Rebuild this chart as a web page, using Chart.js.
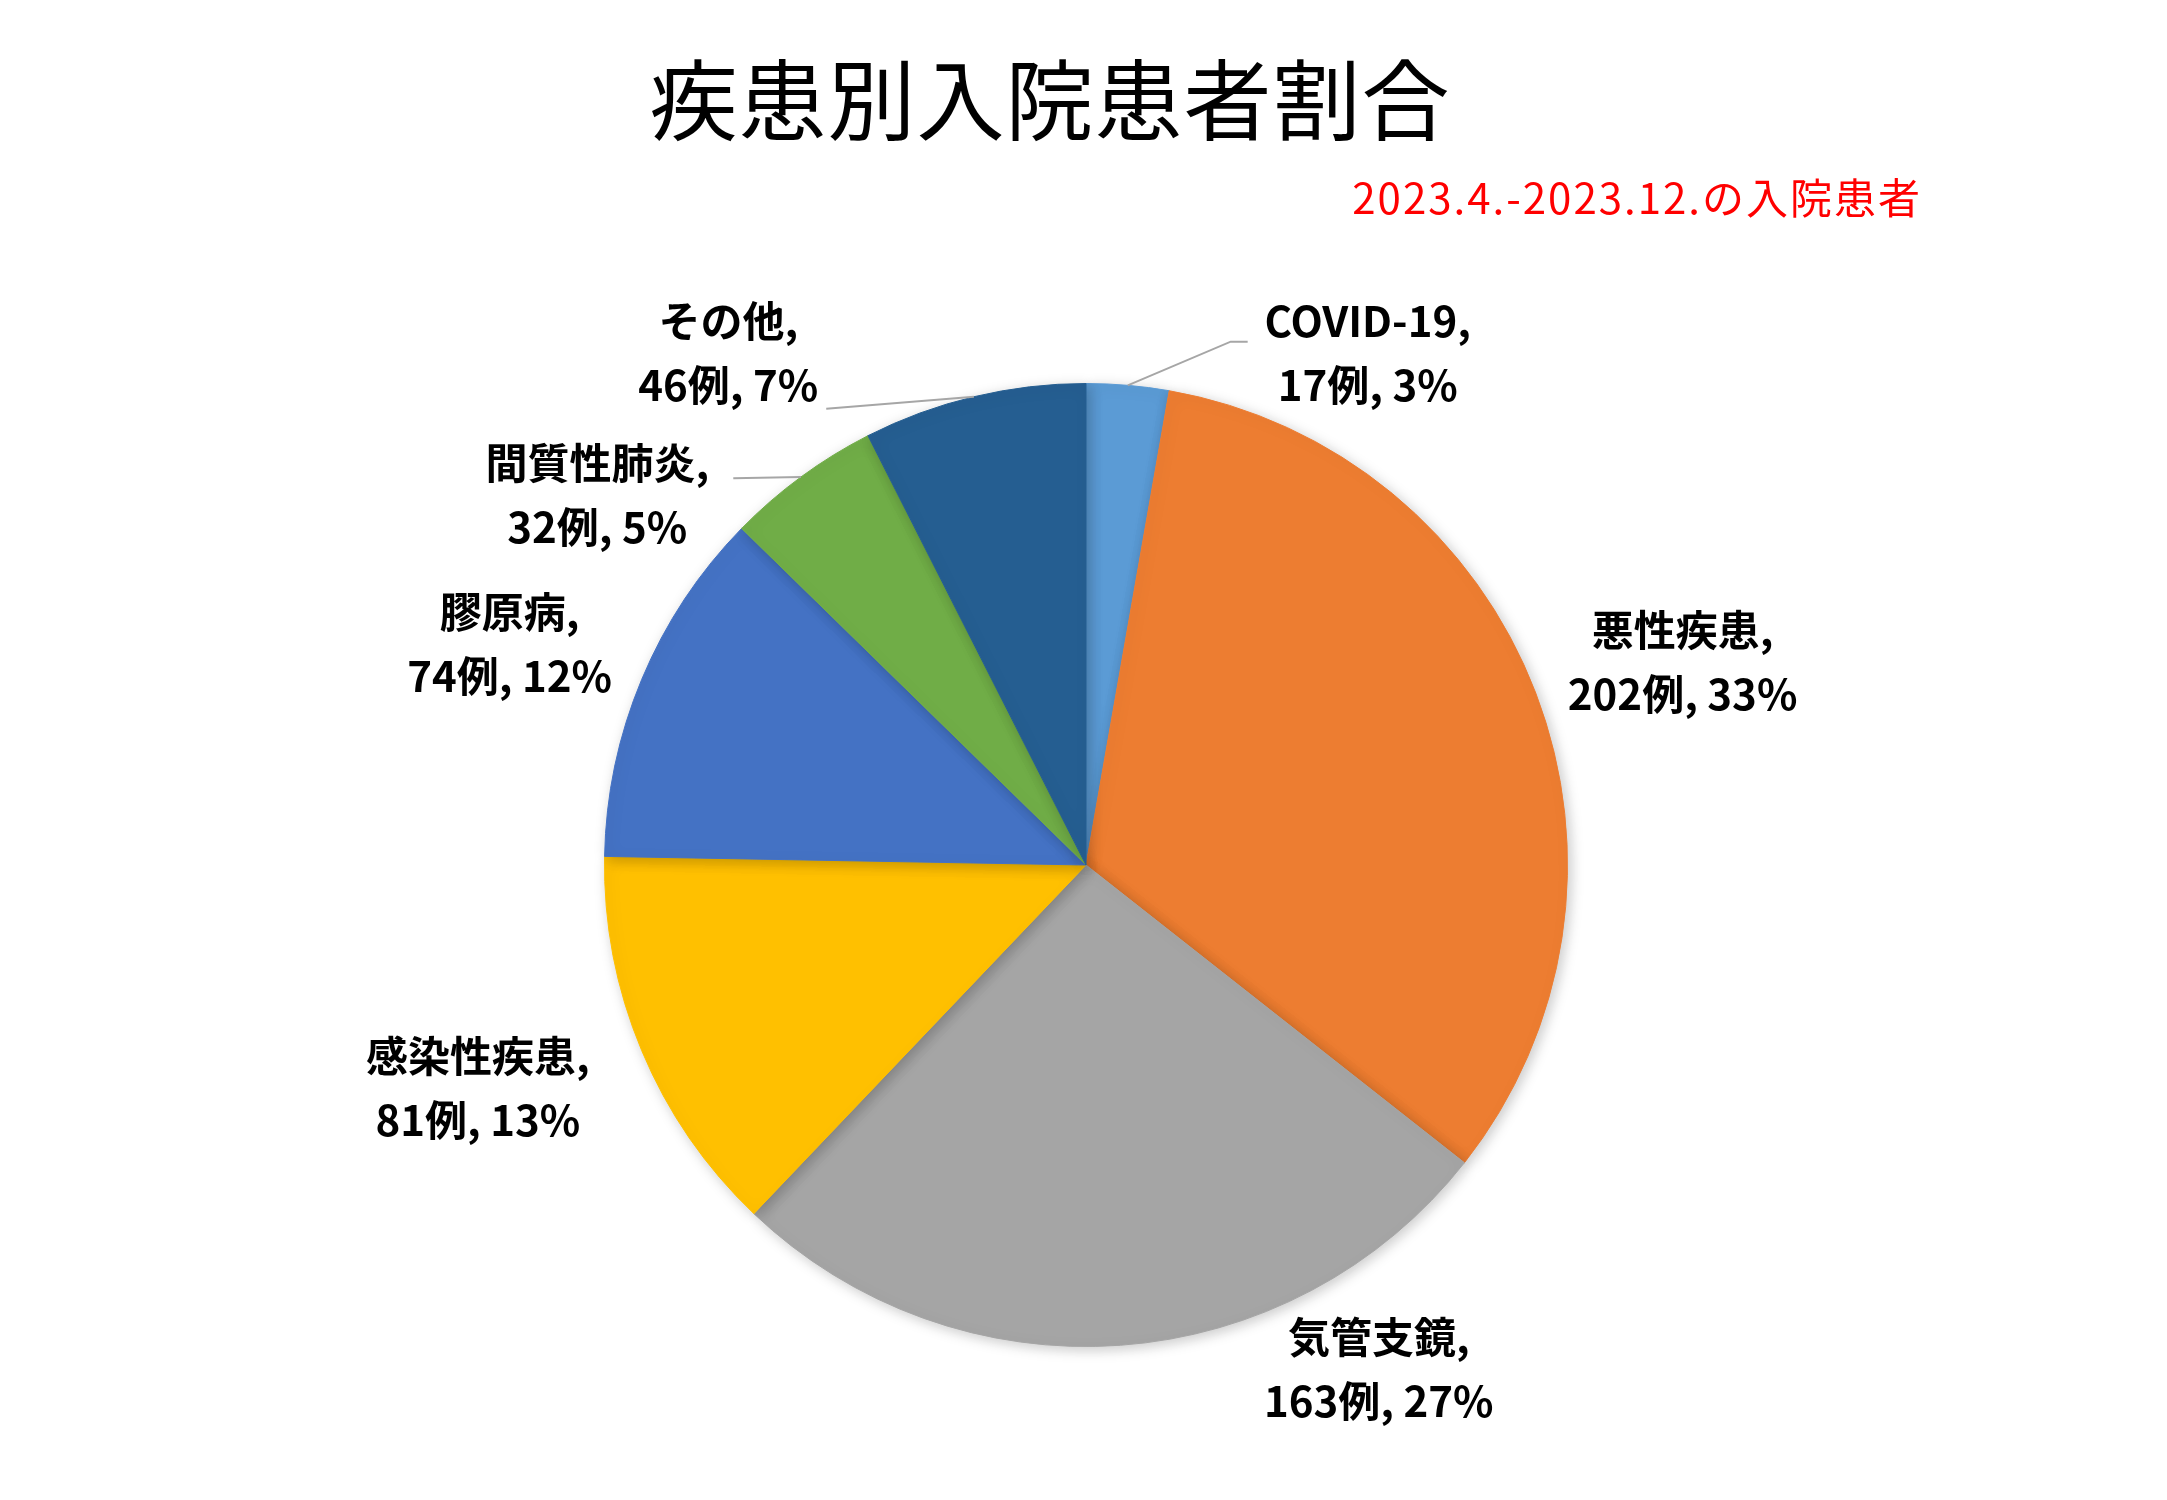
<!DOCTYPE html>
<html lang="ja">
<head>
    <meta charset="UTF-8">
    <title>疾患別入院患者割合</title>
    <script src="https://cdn.jsdelivr.net/npm/chart.js"></script>
    <style>
        html, body { margin: 0; padding: 0; background: #fff; }
        #wrap { width: 2167px; height: 1500px; }
    </style>
</head>
<body>
    <div id="wrap"><canvas id="pieChart" width="2167" height="1500"></canvas></div>

    <script>
        var titleText = '疾患別入院患者割合';
        var subtitleText = '2023.4.-2023.12.の入院患者';

        var categories = ['COVID-19', '悪性疾患', '気管支鏡', '感染性疾患', '膠原病', '間質性肺炎', 'その他'];
        var counts = [17, 202, 163, 81, 74, 32, 46];
        var colors = ['#5B9BD5', '#ED7D31', '#A5A5A5', '#FFC000', '#4472C4', '#70AD47', '#255E91'];

        // label block centres, in pie radii from the pie centre
        var labelSpots = [
            [0.585, -1.064], [1.239, -0.421], [0.608, 1.046], [-1.263, 0.463],
            [-1.197, -0.459], [-1.015, -0.768], [-0.743, -1.064]
        ];
        // which labels get a leader line, and where it meets the text (offset from label centre)
        var leaders = { 0: [-120, -11], 5: [136, -17], 6: [98, 56] };

        var total = counts.reduce(function (a, b) { return a + b; }, 0);

        var FONT = '"Noto Sans CJK JP", "Noto Sans", sans-serif';

        var shadowPlugin = {
            id: 'shadow',
            beforeDatasetsDraw: function (chart) {
                var ctx = chart.ctx;
                ctx.save();
                ctx.shadowColor = 'rgba(0,0,0,0.22)';
                ctx.shadowBlur = 14;
                ctx.shadowOffsetX = 3;
                ctx.shadowOffsetY = 3;
            },
            afterDatasetsDraw: function (chart) {
                chart.ctx.restore();
            }
        };

        var labelPlugin = {
            id: 'pieLabels',
            afterDraw: function (chart) {
                var ctx = chart.ctx;
                var arcs = chart.getDatasetMeta(0).data;
                var cx = arcs[0].x, cy = arcs[0].y, r = arcs[0].outerRadius;

                ctx.save();
                // title
                ctx.fillStyle = '#000';
                ctx.textAlign = 'center';
                ctx.textBaseline = 'middle';
                ctx.font = '88px ' + FONT;
                ctx.letterSpacing = '1px';
                ctx.fillText(titleText, 1050, 100);

                // subtitle
                ctx.fillStyle = '#FF0000';
                ctx.textAlign = 'right';
                ctx.font = '42px ' + FONT;
                ctx.letterSpacing = '2px';
                ctx.fillText(subtitleText, 1922, 198);
                ctx.letterSpacing = '0px';

                for (var i = 0; i < counts.length; i++) {
                    var lx = cx + labelSpots[i][0] * r;
                    var ly = cy + labelSpots[i][1] * r;

                    if (leaders[i]) {
                        var a = arcs[i];
                        var mid = (a.startAngle + a.endAngle) / 2;
                        var sx = cx + Math.cos(mid) * r;
                        var sy = cy + Math.sin(mid) * r;
                        var ex = lx + leaders[i][0];
                        var ey = ly + leaders[i][1];
                        ctx.strokeStyle = '#A6A6A6';
                        ctx.lineWidth = 2;
                        ctx.beginPath();
                        ctx.moveTo(sx, sy);
                        if (i === 0) {
                            ctx.lineTo(ex - 17, ey);
                            ctx.lineTo(ex, ey);
                        } else {
                            ctx.lineTo(ex, ey);
                        }
                        ctx.stroke();
                    }

                    var pct = Math.round(counts[i] / total * 100);
                    ctx.fillStyle = '#000';
                    ctx.textAlign = 'center';
                    ctx.font = 'bold 42px ' + FONT;
                    ctx.fillText(categories[i] + ',', lx, ly - 32);
                    ctx.fillText(counts[i] + '例, ' + pct + '%', lx, ly + 32);
                }
                ctx.restore();
            }
        };

        var ctx = document.getElementById('pieChart').getContext('2d');
        var pieChart = new Chart(ctx, {
            type: 'pie',
            data: {
                labels: categories,
                datasets: [{
                    data: counts,
                    backgroundColor: colors,
                    borderColor: colors,
                    borderWidth: 1
                }]
            },
            options: {
                responsive: false,
                animation: false,
                layout: {
                    padding: { top: 383, bottom: 153, left: 5, right: 0 }
                },
                plugins: {
                    legend: { display: false },
                    tooltip: { enabled: false }
                }
            },
            plugins: [shadowPlugin, labelPlugin]
        });
    </script>
</body>
</html>
